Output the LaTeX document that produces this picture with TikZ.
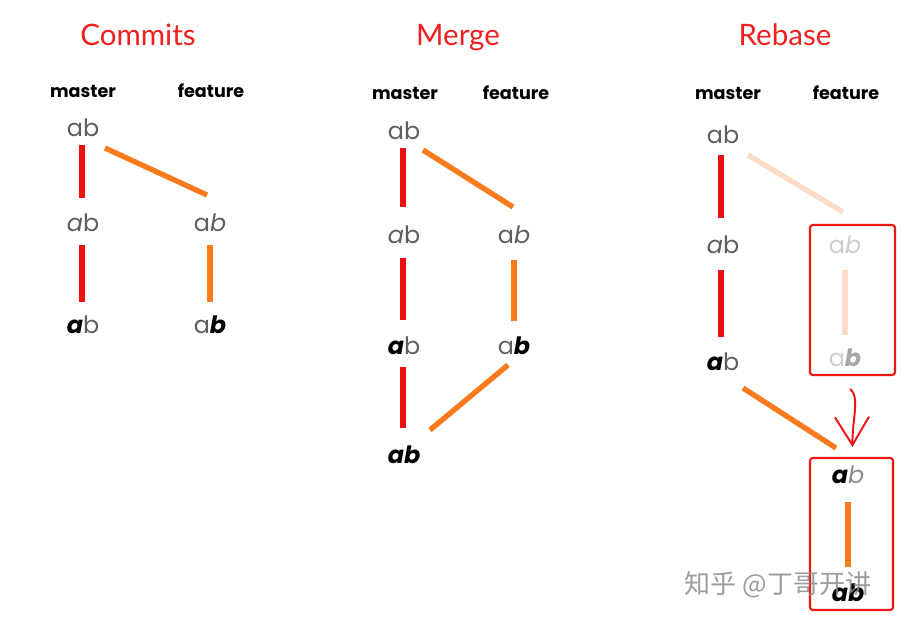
\documentclass[tikz,border=0pt]{standalone}
\usepackage{fontspec}
\setmainfont{Poppins}
\newfontfamily\titlefont{Lato}
\newfontfamily\cjkfont{Noto Sans CJK SC}
\usetikzlibrary{arrows.meta}
\definecolor{trunk}{RGB}{236,16,16}
\definecolor{branch}{RGB}{250,122,30}
\definecolor{branchfade}{RGB}{251,220,200}
\definecolor{letter}{RGB}{95,95,95}
\definecolor{letterfade}{RGB}{205,205,205}
\definecolor{heading}{RGB}{240,32,32}
\definecolor{pen}{RGB}{238,22,22}
\newcommand{\slanta}{\textit{a}b}
\newcommand{\slantb}{a\textit{b}}
\newcommand{\bolda}{\textcolor{black}{\textbf{\textit{a}}}b}
\newcommand{\boldb}{a\textcolor{black}{\textbf{\textit{b}}}}
\newcommand{\boldab}{\textcolor{black}{\textbf{\textit{ab}}}}

\begin{document}
\begin{tikzpicture}[
            x=0.025cm, y=-0.025cm,
            commit/.style = {text=letter, inner sep=0pt, font=\fontsize{17}{20}\selectfont},
            branchname/.style = {anchor=base, inner sep=0pt, font=\bfseries\fontsize{12.5}{14}\selectfont},
            title/.style = {anchor=base, inner sep=0pt, text=heading, font=\titlefont\fontsize{21}{25}\selectfont},
            trunkline/.style = {trunk, line width=4.3pt},
            branchline/.style = {branch, line width=3.8pt},
            hlbox/.style = {draw=pen, line width=1.5pt, rounded corners=2pt, inner sep=0pt}
            ]
            \useasboundingbox[fill=white] (0,0) rectangle (920,620);

            % Commits
            \node[title] (t1) at (138,45) {Commits};
            \node[branchname] (cm) at (83,97) {master};
            \node[branchname] (cf) at (211,97) {feature};
            \node[commit] (c1) at (83,128) {ab};
            \node[commit] (c2) at (83,223) {\slanta};
            \node[commit] (c3) at (83,325) {\bolda};
            \node[commit] (c4) at (210,223) {\slantb};
            \node[commit] (c5) at (210,325) {\boldb};
            \draw[trunkline] ([shift={(-1,17)}]c1.center) -- ([shift={(-1,-25)}]c2.center);
            \draw[trunkline] ([shift={(-1,22)}]c2.center) -- ([shift={(-1,-23)}]c3.center);
            \draw[branchline] ([shift={(22,20)}]c1.center) -- ([shift={(-3,-28)}]c4.center);
            \draw[branchline] ([shift={(0,22)}]c4.center) -- ([shift={(0,-23)}]c5.center);

            % Merge
            \node[title] (t2) at (458,45) {Merge};
            \node[branchname] (mm) at (405,99) {master};
            \node[branchname] (mf) at (516,99) {feature};
            \node[commit] (m1) at (404,131) {ab};
            \node[commit] (m2) at (404,235) {\slanta};
            \node[commit] (m3) at (404,346) {\bolda};
            \node[commit] (m4) at (404,455) {\boldab};
            \node[commit] (m5) at (514,235) {\slantb};
            \node[commit] (m6) at (514,346) {\boldb};
            \draw[trunkline] ([shift={(-1,17)}]m1.center) -- ([shift={(-1,-28)}]m2.center);
            \draw[trunkline] ([shift={(-1,23)}]m2.center) -- ([shift={(-1,-26)}]m3.center);
            \draw[trunkline] ([shift={(-1,21)}]m3.center) -- ([shift={(-1,-27)}]m4.center);
            \draw[branchline] ([shift={(19,19)}]m1.center) -- ([shift={(-1,-28)}]m5.center);
            \draw[branchline] ([shift={(0,25)}]m5.center) -- ([shift={(0,-25)}]m6.center);
            \draw[branchline] ([shift={(-6,19)}]m6.center) -- ([shift={(26,-25)}]m4.center);

            % Rebase
            \node[title] (t3) at (785,45) {Rebase};
            \node[branchname] (rm) at (728,99) {master};
            \node[branchname] (rf) at (846,99) {feature};
            \node[commit] (r1) at (723,135) {ab};
            \node[commit] (r2) at (723,245) {\slanta};
            \node[commit] (r3) at (723,362) {\bolda};
            \node[commit, text=letterfade] (r4) at (845,245) {a\textit{b}};
            \node[commit, text=letterfade] (r5) at (845,358) {a\textcolor{black!35}{\textbf{\textit{b}}}};
            \node[commit] (r6) at (848,475) {\textcolor{black}{\textbf{\textit{a}}}\textcolor{black!45}{\textit{b}}};
            \node[commit] (r7) at (848,593) {\boldab};
            \draw[trunkline] ([shift={(-2,20)}]r1.center) -- ([shift={(-2,-27)}]r2.center);
            \draw[trunkline] ([shift={(-2,25)}]r2.center) -- ([shift={(-2,-25)}]r3.center);
            \draw[branchline, branchfade] ([shift={(25,20)}]r1.center) -- ([shift={(-2,-33)}]r4.center);
            \draw[branchline, branchfade] ([shift={(0,25)}]r4.center) -- ([shift={(0,-23)}]r5.center);
            \draw[branchline] ([shift={(20,26)}]r3.center) -- ([shift={(-12,-27)}]r6.center);
            \draw[branchline] ([shift={(0,27)}]r6.center) -- ([shift={(0,-26)}]r7.center);
            \node[hlbox, minimum width=2.125cm, minimum height=3.75cm] (b1) at (852.5,300) {};
            \node[hlbox, minimum width=2.075cm, minimum height=3.8cm] (b2) at (851.5,534) {};
            \draw[pen, line width=1.4pt, line cap=round,
                -{Straight Barb[length=0.7cm, width=0.85cm, line width=1.4pt]}]
                ([shift={(-2,13)}]b1.south) .. controls (860,398) and (852,420) .. ([shift={(1,-10)}]b2.north);

            \node[text=black!45, opacity=0.85, font=\cjkfont\fontsize{18.5}{20}\selectfont] (wm) at (778,585) {知乎 @丁哥开讲};
        \end{tikzpicture}
\end{document}
